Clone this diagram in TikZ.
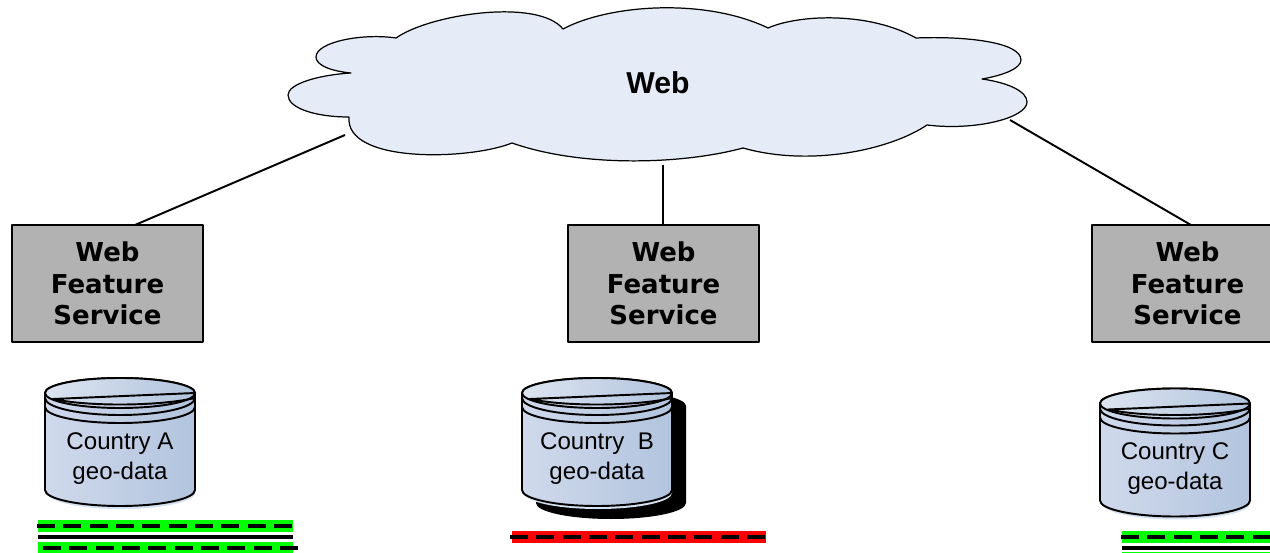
\documentclass[tikz,border=0pt]{standalone}
\usepackage{fontspec}
\setmainfont{Liberation Sans}
\newfontfamily\boxfont{DejaVu Sans}
\definecolor{cloudblue}{HTML}{E6ECF7}
\definecolor{boxgray}{HTML}{B2B2B2}
\definecolor{dbleft}{HTML}{D0D9EC}
\definecolor{dbright}{HTML}{B2C4DE}
\definecolor{dbtopleft}{HTML}{DCE4F0}
\definecolor{dbglow}{HTML}{D5E0F0}
\definecolor{roadgreen}{HTML}{00FF00}
\tikzset{
	wfsbox/.style={draw, line width=1.2pt, fill=boxgray, minimum width=3.82cm, minimum height=2.34cm, inner sep=0pt, align=center, font=\boxfont\bfseries\fontsize{14.8}{18}\selectfont},
	link/.style={line width=1.1pt},
	roaddash/.style={line width=2.2pt, dash pattern=on 10.2pt off 4.8pt},
	roadline/.style={line width=2.2pt},
	dblabel/.style={align=center, inner sep=0pt, font=\fontsize{13.7}{17}\selectfont}
}
\begin{document}
\begin{tikzpicture}[x=.02cm, y=-.02cm, line join=round]
	\useasboundingbox (0,0) rectangle (1270,553);
	\clip (0,0) rectangle (1270,553);
	% Cloud
	\draw[fill=cloudblue, line width=.7pt] (396,38)
		.. controls (430,14) and (538,-2) .. (563,29)
		.. controls (610,4) and (706,-2) .. (768,28)
		.. controls (800,14) and (870,12) .. (916,38)
		.. controls (965,36) and (1021,42) .. (1021,60)
		.. controls (1021,68) and (1005,75) .. (982,79)
		.. controls (1010,83) and (1027,92) .. (1027,102)
		.. controls (1027,118) and (975,131) .. (927,125)
		.. controls (890,150) and (810,167) .. (743,148)
		.. controls (680,165) and (580,167) .. (512,143)
		.. controls (470,160) and (345,164) .. (349,117)
		.. controls (315,117) and (288,108) .. (288,95)
		.. controls (288,84) and (318,75) .. (351,73)
		.. controls (330,71) and (316,65) .. (316,57)
		.. controls (316,42) and (362,33) .. (396,38) -- cycle;
	\node[font=\bfseries\fontsize{17.2}{20}\selectfont, inner sep=0pt] (web) at (658,83) {Web};
	% Services
	\node[wfsbox] (boxA) at (107.5,283.5) {Web\\Feature\\Service};
	\node[wfsbox] (boxB) at (663.5,283.5) {Web\\Feature\\Service};
	\node[wfsbox] (boxC) at (1187.5,283.5) {Web\\Feature\\Service};
	\coordinate (portA) at (135,225);
	\coordinate (portB) at (663,225);
	\coordinate (portC) at (1191,225);
	\coordinate (cloudA) at (345,135);
	\coordinate (cloudB) at (663,165);
	\coordinate (cloudC) at (1010,120);
	\foreach \s in {A,B,C} \draw[link] (port\s)--(cloud\s);
	% Shadow of the B store
	\fill (611,406) ++(-75,0)--++(0,97) arc (180:0:75 and 16)--++(0,-97) arc (0:-180:75 and 15)--cycle;
	% Stores
	\foreach \cx/\cy/\cname/\clabel in {120/393/dbA/{Country A\\geo-data},597/393/dbB/{Country\ \ B\\geo-data},1175/403.5/dbC/{Country C\\geo-data}} {
		\begin{scope}[shift={(\cx,\cy)}]
			\fill[dbglow] (-73,3)--(-73,100) arc (180:0:74 and 16)--(75,3)--cycle;
			\draw[line width=1.1pt, left color=dbleft, right color=dbright] (-75,0)--(-75,97) arc (180:0:75 and 16)--(75,0) arc (0:-180:75 and 15)--cycle;
			\draw[line width=1.1pt, left color=dbtopleft, right color=dbright] (0,0) ellipse (75 and 15);
			\draw[line width=1.1pt] (-75,5) arc (180:0:75 and 17);
			\draw[line width=1.1pt] (-75,14) arc (180:0:75 and 16);
			\draw[line width=1.1pt] (75,0)--(-67,6) .. controls (-30,14) and (40,13) .. (75,5);
			\node[dblabel] (\cname) at (0,65.5) {\clabel};
		\end{scope}
	}
	% Roads of A
	\fill[roadgreen] (38,520) rectangle (293,532);
	\draw[roaddash] (37,526)--(295,526);
	\draw[roadline] (38,537)--(293,537);
	\fill[roadgreen] (38,542) rectangle (293,553);
	\draw[roaddash] (43,548)--(300,548);
	% Roads of B
	\fill[red] (512,531) rectangle (766,543);
	\draw[roaddash] (510,537)--(767,537);
	% Roads of C
	\fill[roadgreen] (1122,531) rectangle (1270,543);
	\draw[roaddash] (1121,537)--(1270,537);
	\draw[roadline] (1122,548)--(1270,548);
	\fill[roadgreen] (1122,552) rectangle (1270,553);
\end{tikzpicture}
\end{document}
